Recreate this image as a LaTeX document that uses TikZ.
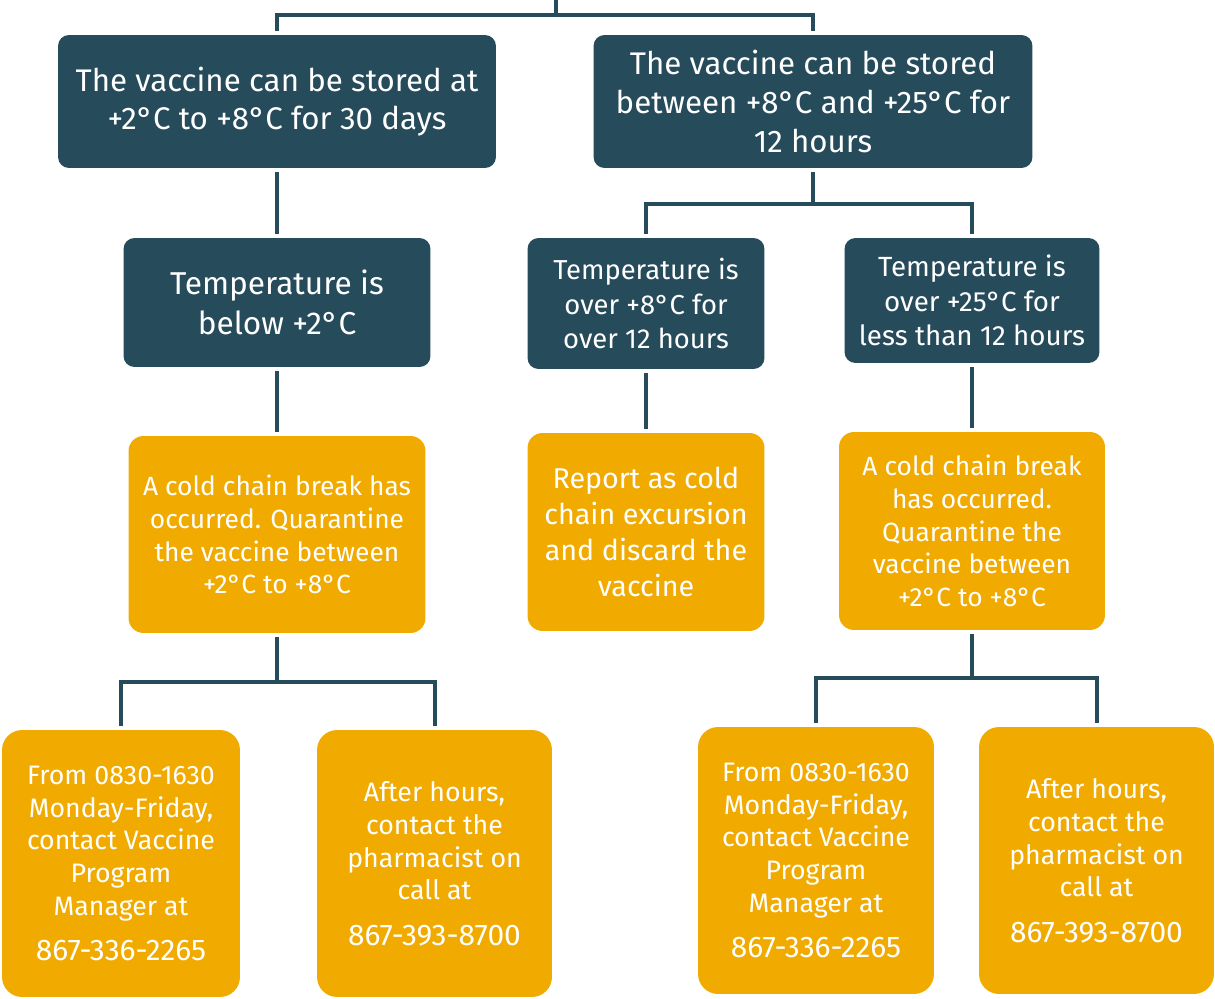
\documentclass[tikz,border=0pt]{standalone}
\usepackage{fontspec}
\setmainfont{Fira Sans}
\usetikzlibrary{positioning,calc}
\definecolor{coldteal}{RGB}{38,75,91}
\definecolor{alertamber}{RGB}{240,170,0}

\tikzset{
  darkbox/.style={fill=coldteal, text=white, rounded corners=0.22cm, inner sep=0pt, align=center},
  amberbox/.style={fill=alertamber, text=white, rounded corners=0.4cm, inner sep=0pt, align=center},
  link/.style={draw=coldteal, line width=0.08cm},
  gap/.style={shorten <=0.07cm, shorten >=0.07cm}
}
\newcommand{\phonenum}[1]{{\fontsize{17}{20}\selectfont #1}}

\begin{document}
\begin{tikzpicture}[x=0.02cm, y=-0.02cm]
    \useasboundingbox (0,0) rectangle (1215,999);

    % Storage conditions
    \node[darkbox, minimum width=8.76cm, minimum height=2.66cm, font=\fontsize{17.8}{22}\selectfont] (a1) at (277,101.5)
        {The vaccine can be stored at\\+2°C to +8°C for 30 days};
    \node[darkbox, minimum width=8.78cm, minimum height=2.66cm, font=\fontsize{17.8}{22}\selectfont] (b1) at (813,101.5)
        {The vaccine can be stored\\between +8°C and +25°C for\\12 hours};

    % Temperature checks
    \node[darkbox, minimum width=6.14cm, minimum height=2.58cm, font=\fontsize{18}{22.5}\selectfont] (a2) at (277,302.5)
        {Temperature is\\below +2°C};
    \node[darkbox, minimum width=4.74cm, minimum height=2.62cm, font=\fontsize{15.6}{19.8}\selectfont] (b2) at (646,303.5)
        {Temperature is\\over +8°C for\\over 12 hours};
    \node[darkbox, minimum width=5.1cm, minimum height=2.5cm, font=\fontsize{15.8}{19.5}\selectfont] (b3) at (972,300.5)
        {Temperature is\\over +25°C for\\less than 12 hours};

    % Actions
    \node[amberbox, rounded corners=0.3cm, minimum width=5.94cm, minimum height=3.94cm, font=\fontsize{15}{18.7}\selectfont] (a3) at (277,534.5)
        {A cold chain break has\\occurred. Quarantine\\the vaccine between\\+2°C to +8°C};
    \node[amberbox, rounded corners=0.3cm, minimum width=4.74cm, minimum height=3.96cm, font=\fontsize{16.3}{20.4}\selectfont] (b4) at (646,532)
        {Report as cold\\chain excursion\\and discard the\\vaccine};
    \node[amberbox, rounded corners=0.3cm, minimum width=5.32cm, minimum height=3.96cm, font=\fontsize{15}{18.7}\selectfont] (b5) at (972,531)
        {A cold chain break\\has occurred.\\Quarantine the\\vaccine between\\+2°C to +8°C};

    % Contacts
    \node[amberbox, minimum width=4.76cm, minimum height=5.34cm, font=\fontsize{15.2}{18.7}\selectfont] (a4) at (121,863.5)
        {From 0830-1630\\Monday-Friday,\\contact Vaccine\\Program\\Manager at\\[7pt]\phonenum{867-336-2265}};
    \node[amberbox, minimum width=4.7cm, minimum height=5.34cm, font=\fontsize{15.2}{18.7}\selectfont] (a5) at (434.5,863.5)
        {After hours,\\contact the\\pharmacist on\\call at\\[7pt]\phonenum{867-393-8700}};
    \node[amberbox, minimum width=4.72cm, minimum height=5.34cm, font=\fontsize{15.2}{18.7}\selectfont] (b6) at (816,860.5)
        {From 0830-1630\\Monday-Friday,\\contact Vaccine\\Program\\Manager at\\[7pt]\phonenum{867-336-2265}};
    \node[amberbox, minimum width=4.7cm, minimum height=5.34cm, font=\fontsize{15.2}{18.7}\selectfont] (b7) at (1096.5,860.5)
        {After hours,\\contact the\\pharmacist on\\call at\\[7pt]\phonenum{867-393-8700}};

    % Connectors
    \coordinate (root) at (556,0);
    \coordinate (rootfork) at (556,15);
    \coordinate (b1fork) at (813,204);
    \coordinate (a3fork) at (277,682);
    \coordinate (b5fork) at (972,678);

    \draw[link] (root) -- (rootfork);
    \draw[link, gap] (a1.north) |- (rootfork) -| (b1.north);
    \draw[link, gap] (a1.south) -- (a2.north);
    \draw[link, gap] (a2.south) -- (a3.north);
    \draw[link, shorten <=0.07cm] (b1.south) -- (b1fork);
    \draw[link, gap] (b2.north) |- (b1fork) -| (b3.north);
    \draw[link, gap] (b2.south) -- (b4.north);
    \draw[link, gap] (b3.south) -- (b5.north);
    \draw[link, shorten <=0.07cm] (a3.south) -- (a3fork);
    \draw[link, gap] (a4.north) |- (a3fork) -| (a5.north);
    \draw[link, shorten <=0.07cm] (b5.south) -- (b5fork);
    \draw[link, gap] (b6.north) |- (b5fork) -| (b7.north);
\end{tikzpicture}
\end{document}
